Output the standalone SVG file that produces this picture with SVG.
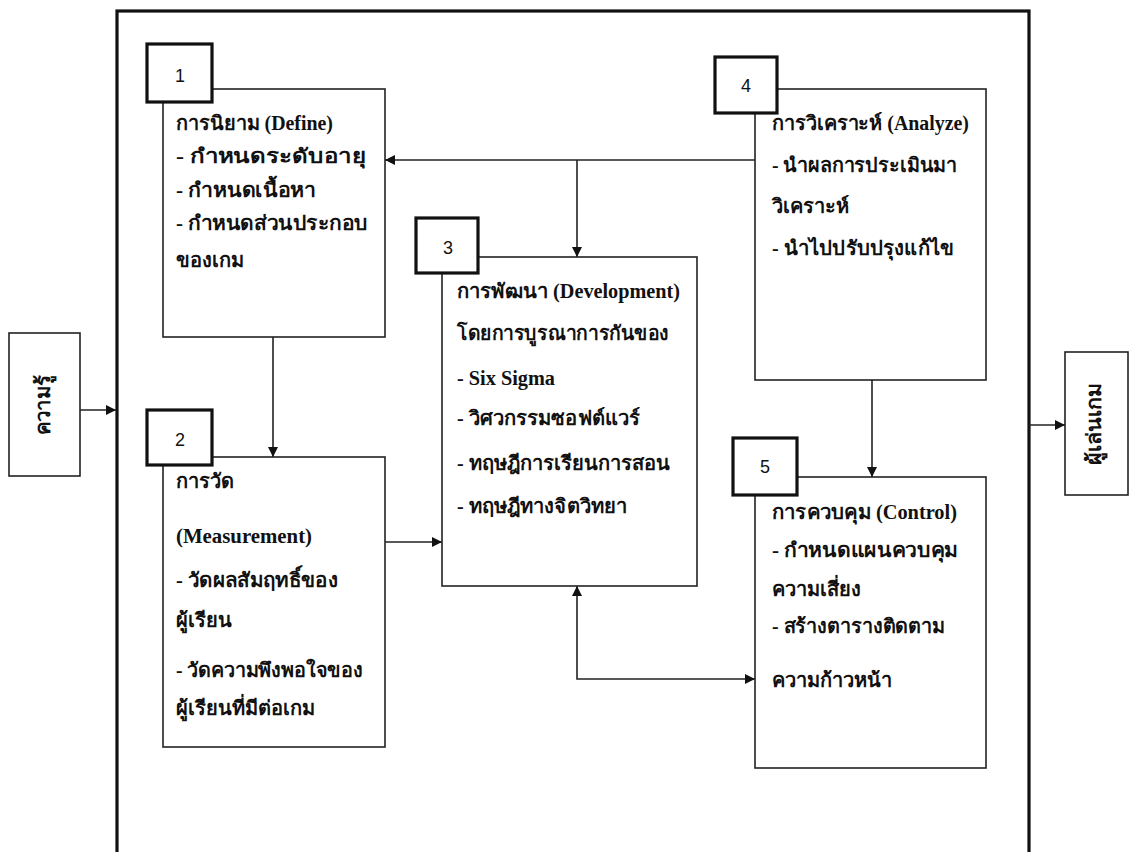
<svg xmlns="http://www.w3.org/2000/svg" width="1130" height="852" viewBox="0 0 1130 852">
<style>
.box{fill:#fff;stroke:#222;stroke-width:1.6}
.num{fill:#fff;stroke:#111;stroke-width:3.2}
.frame{fill:none;stroke:#111;stroke-width:3.2}
.t{font-family:"Liberation Serif",serif;font-weight:bold;font-size:20px;fill:#111}
.n{font-family:"Liberation Sans",sans-serif;font-size:18px;fill:#111}
.c{fill:none;stroke:#222;stroke-width:1.6}
</style>
<defs>
<marker id="ah" viewBox="0 0 10 10" refX="10" refY="5" markerWidth="10" markerHeight="10" markerUnits="userSpaceOnUse" orient="auto-start-reverse">
<path d="M0,0 L10,5 L0,10 z" fill="#111"/>
</marker>
</defs>
<rect class="frame" x="117" y="11" width="912" height="860"/>
<g id="input">
<rect class="box" x="9" y="333" width="71" height="143"/>
<text class="t" transform="translate(50,405) rotate(-90)" text-anchor="middle" textLength="60" lengthAdjust="spacingAndGlyphs">ความรู้</text>
</g>
<g id="output">
<rect class="box" x="1065" y="352" width="63" height="143"/>
<text class="t" transform="translate(1101,424) rotate(-90)" text-anchor="middle" textLength="82" lengthAdjust="spacingAndGlyphs">ผู้เล่นเกม</text>
</g>
<g id="connectors">
<line class="c" x1="80" y1="410" x2="116" y2="410" marker-end="url(#ah)"/>
<line class="c" x1="1029" y1="425" x2="1065" y2="425" marker-end="url(#ah)"/>
<line class="c" x1="273" y1="337" x2="273" y2="457" marker-end="url(#ah)"/>
<line class="c" x1="755" y1="160" x2="385" y2="160" marker-end="url(#ah)"/>
<line class="c" x1="577" y1="160" x2="577" y2="257" marker-end="url(#ah)"/>
<line class="c" x1="385" y1="542" x2="442" y2="542" marker-end="url(#ah)"/>
<line class="c" x1="872" y1="380" x2="872" y2="477" marker-end="url(#ah)"/>
<polyline class="c" points="577,586 577,679 755,679" marker-start="url(#ah)" marker-end="url(#ah)"/>
</g>
<g id="node1">
<rect class="box" x="163" y="89" width="222" height="248"/>
<rect class="num" x="147" y="44" width="65" height="58"/>
<text class="n" x="180" y="82" text-anchor="middle">1</text>
<text class="t" x="176" y="130" textLength="157" lengthAdjust="spacingAndGlyphs">การนิยาม (Define)</text>
<text class="t" x="176" y="163" textLength="190" lengthAdjust="spacingAndGlyphs">- กำหนดระดับอายุ</text>
<text class="t" x="176" y="197" textLength="140" lengthAdjust="spacingAndGlyphs">- กำหนดเนื้อหา</text>
<text class="t" x="176" y="230" textLength="192" lengthAdjust="spacingAndGlyphs">- กำหนดส่วนประกอบ</text>
<text class="t" x="176" y="267">ของเกม</text>
</g>
<g id="node2">
<rect class="box" x="163" y="457" width="222" height="290"/>
<rect class="num" x="147" y="410" width="65" height="55"/>
<text class="n" x="180" y="446" text-anchor="middle">2</text>
<text class="t" x="176" y="488">การวัด</text>
<text class="t" x="176" y="543" textLength="136" lengthAdjust="spacingAndGlyphs">(Measurement)</text>
<text class="t" x="176" y="587" textLength="162" lengthAdjust="spacingAndGlyphs">- วัดผลสัมฤทธิ์ของ</text>
<text class="t" x="176" y="627">ผู้เรียน</text>
<text class="t" x="176" y="677" textLength="187" lengthAdjust="spacingAndGlyphs">- วัดความพึงพอใจของ</text>
<text class="t" x="176" y="715" textLength="139" lengthAdjust="spacingAndGlyphs">ผู้เรียนที่มีต่อเกม</text>
</g>
<g id="node3">
<rect class="box" x="442" y="257" width="255" height="329"/>
<rect class="num" x="416" y="218" width="62" height="55"/>
<text class="n" x="448" y="254" text-anchor="middle">3</text>
<text class="t" x="457" y="298" textLength="223" lengthAdjust="spacingAndGlyphs">การพัฒนา (Development)</text>
<text class="t" x="457" y="340" textLength="212" lengthAdjust="spacingAndGlyphs">โดยการบูรณาการกันของ</text>
<text class="t" x="457" y="385" textLength="98" lengthAdjust="spacingAndGlyphs">- Six Sigma</text>
<text class="t" x="457" y="425" textLength="183" lengthAdjust="spacingAndGlyphs">- วิศวกรรมซอฟต์แวร์</text>
<text class="t" x="457" y="470" textLength="213" lengthAdjust="spacingAndGlyphs">- ทฤษฎีการเรียนการสอน</text>
<text class="t" x="457" y="513" textLength="170" lengthAdjust="spacingAndGlyphs">- ทฤษฎีทางจิตวิทยา</text>
</g>
<g id="node4">
<rect class="box" x="755" y="89" width="231" height="291"/>
<rect class="num" x="715" y="57" width="62" height="56"/>
<text class="n" x="746" y="92" text-anchor="middle">4</text>
<text class="t" x="772" y="130" textLength="197" lengthAdjust="spacingAndGlyphs">การวิเคราะห์ (Analyze)</text>
<text class="t" x="772" y="172" textLength="185" lengthAdjust="spacingAndGlyphs">- นำผลการประเมินมา</text>
<text class="t" x="772" y="213">วิเคราะห์</text>
<text class="t" x="772" y="255" textLength="182" lengthAdjust="spacingAndGlyphs">- นำไปปรับปรุงแก้ไข</text>
</g>
<g id="node5">
<rect class="box" x="755" y="477" width="231" height="291"/>
<rect class="num" x="733" y="438" width="64" height="57"/>
<text class="n" x="765" y="473" text-anchor="middle">5</text>
<text class="t" x="772" y="519" textLength="185" lengthAdjust="spacingAndGlyphs">การควบคุม (Control)</text>
<text class="t" x="772" y="557" textLength="186" lengthAdjust="spacingAndGlyphs">- กำหนดแผนควบคุม</text>
<text class="t" x="772" y="596">ความเสี่ยง</text>
<text class="t" x="772" y="633" textLength="173" lengthAdjust="spacingAndGlyphs">- สร้างตารางติดตาม</text>
<text class="t" x="772" y="687">ความก้าวหน้า</text>
</g>
</svg>
